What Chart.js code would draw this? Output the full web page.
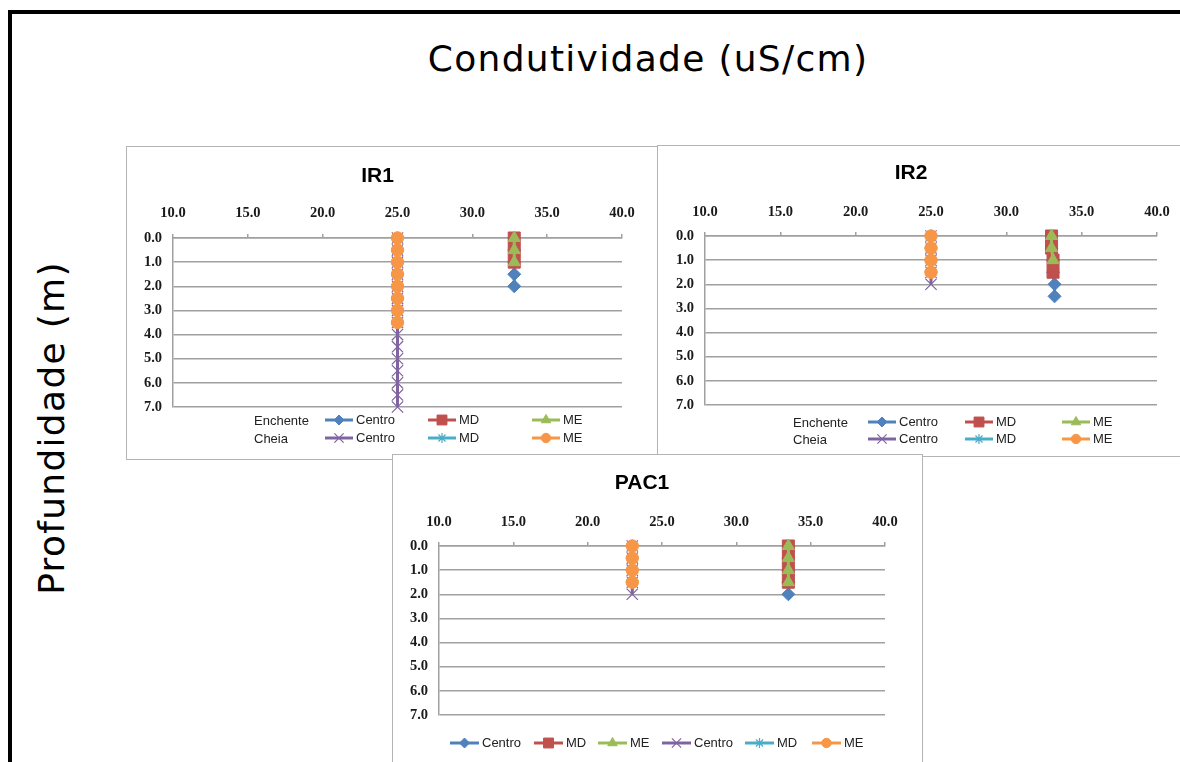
<!DOCTYPE html>
<html>
<head>
<meta charset="utf-8">
<script src="https://cdn.jsdelivr.net/npm/chart.js@4.4.1/dist/chart.umd.min.js"></script>
<style>
  html, body { margin: 0; padding: 0; background: #fff; }
  #stage { position: relative; width: 1180px; height: 762px; overflow: hidden; background: #fff; }
  #frame { position: absolute; left: 8px; top: 10px; width: 1300px; height: 900px; border: 4px solid #000; box-sizing: border-box; }
  .big { position: absolute; font-family: "DejaVu Sans", sans-serif; font-size: 36px; letter-spacing: 1.3px; color: #000; white-space: nowrap; line-height: 42px; }
  #title { left: 648px; top: 38px; transform: translateX(-50%); }
  #ylab { left: 52px; top: 428px; transform: translate(-50%, -50%) rotate(-90deg); }
  .box { position: absolute; background: #fff; border: 1px solid #b4b4b4; }
  .box canvas { position: absolute; left: 0; top: 0; }
</style>
</head>
<body>
<div id="stage">
  <div id="frame"></div>
  <div id="title" class="big">Condutividade (uS/cm)</div>
  <div id="ylab" class="big">Profundidade (m)</div>
  <div class="box" style="left:126px;top:146px;width:530px;height:312px"><canvas id="ir1" width="530" height="312"></canvas></div>
  <div class="box" style="left:657px;top:145px;width:530px;height:310px"><canvas id="ir2" width="530" height="310"></canvas></div>
  <div class="box" style="left:392px;top:454px;width:529px;height:320px"><canvas id="pac1" width="529" height="320"></canvas></div>
</div>
<script>
// legend text, campaign order: Enchente (first 3), Cheia (last 3)
const SERIES_LABELS = ['Centro', 'MD', 'ME', 'Centro', 'MD', 'ME'];
const CAMPAIGNS = ['Enchente', 'Cheia'];

// IR1 - profundidade (m) / condutividade (uS/cm)
const IR1_PROF_ENCH_CENTRO = [0.0, 0.5, 1.0, 1.5, 2.0];
const IR1_COND_ENCH_CENTRO = [32.8, 32.8, 32.8, 32.8, 32.8];
const IR1_PROF_ENCH_MD = [0.0, 0.5, 1.0];
const IR1_COND_ENCH_MD = [32.8, 32.8, 32.8];
const IR1_PROF_ENCH_ME = [0.0, 0.5, 1.0];
const IR1_COND_ENCH_ME = [32.8, 32.8, 32.8];
const IR1_PROF_CHEIA_CENTRO = [0.0, 0.5, 1.0, 1.5, 2.0, 2.5, 3.0, 3.5, 4.0, 4.5, 5.0, 5.5, 6.0, 6.5, 7.0];
const IR1_COND_CHEIA_CENTRO = [25.0, 25.0, 25.0, 25.0, 25.0, 25.0, 25.0, 25.0, 25.0, 25.0, 25.0, 25.0, 25.0, 25.0, 25.0];
const IR1_PROF_CHEIA_MD = [0.0, 0.5, 1.0, 1.5, 2.0, 2.5, 3.0, 3.5];
const IR1_COND_CHEIA_MD = [25.0, 25.0, 25.0, 25.0, 25.0, 25.0, 25.0, 25.0];
const IR1_PROF_CHEIA_ME = [0.0, 0.5, 1.0, 1.5, 2.0, 2.5, 3.0, 3.5];
const IR1_COND_CHEIA_ME = [25.0, 25.0, 25.0, 25.0, 25.0, 25.0, 25.0, 25.0];

// IR2
const IR2_PROF_ENCH_CENTRO = [0.0, 0.5, 1.0, 1.5, 2.0, 2.5];
const IR2_COND_ENCH_CENTRO = [33.0, 33.0, 33.1, 33.1, 33.2, 33.2];
const IR2_PROF_ENCH_MD = [0.0, 0.5, 1.0, 1.5];
const IR2_COND_ENCH_MD = [33.0, 33.0, 33.1, 33.1];
const IR2_PROF_ENCH_ME = [0.0, 0.5, 1.0];
const IR2_COND_ENCH_ME = [33.0, 33.0, 33.1];
const IR2_PROF_CHEIA_CENTRO = [0.0, 0.5, 1.0, 1.5, 2.0];
const IR2_COND_CHEIA_CENTRO = [25.0, 25.0, 25.0, 25.0, 25.0];
const IR2_PROF_CHEIA_MD = [0.0, 0.5, 1.0, 1.5];
const IR2_COND_CHEIA_MD = [25.0, 25.0, 25.0, 25.0];
const IR2_PROF_CHEIA_ME = [0.0, 0.5, 1.0, 1.5];
const IR2_COND_CHEIA_ME = [25.0, 25.0, 25.0, 25.0];

// PAC1
const PAC1_PROF_ENCH_CENTRO = [0.0, 0.5, 1.0, 1.5, 2.0];
const PAC1_COND_ENCH_CENTRO = [33.5, 33.5, 33.5, 33.5, 33.5];
const PAC1_PROF_ENCH_MD = [0.0, 0.5, 1.0, 1.5];
const PAC1_COND_ENCH_MD = [33.5, 33.5, 33.5, 33.5];
const PAC1_PROF_ENCH_ME = [0.0, 0.5, 1.0, 1.5];
const PAC1_COND_ENCH_ME = [33.5, 33.5, 33.5, 33.5];
const PAC1_PROF_CHEIA_CENTRO = [0.0, 0.5, 1.0, 1.5, 2.0];
const PAC1_COND_CHEIA_CENTRO = [23.0, 23.0, 23.0, 23.0, 23.0];
const PAC1_PROF_CHEIA_MD = [0.0, 0.5, 1.0, 1.5];
const PAC1_COND_CHEIA_MD = [23.0, 23.0, 23.0, 23.0];
const PAC1_PROF_CHEIA_ME = [0.0, 0.5, 1.0, 1.5];
const PAC1_COND_CHEIA_ME = [23.0, 23.0, 23.0, 23.0];

// axis ranges
const COND_MIN = 10, COND_MAX = 40, COND_STEP = 5;
const PROF_MIN = 0, PROF_MAX = 7, PROF_STEP = 1;

const STYLES = [
  { color: '#4F81BD', point: 'rectRot', r: 6.5, bw: 1 },
  { color: '#C0504D', point: 'rect', r: 8.5, bw: 1 },
  { color: '#9BBB59', point: 'triangle', r: 7, bw: 1 },
  { color: '#8064A2', point: 'crossRot', r: 8, bw: 1.2 },
  { color: '#4BACC6', point: 'star', r: 6.5, bw: 1.2 },
  { color: '#F79646', point: 'circle', r: 6.2, bw: 1 },
];
const GRID = '#a0a0a0';

function series(conds, profs) {
  return conds.map((c, i) => {
    const s = STYLES[i];
    return {
      label: SERIES_LABELS[i],
      data: c.map((x, j) => ({ x, y: profs[i][j] })),
      showLine: true,
      clip: false,
      borderColor: s.color,
      backgroundColor: s.color,
      borderWidth: 3,
      pointStyle: s.point,
      pointRadius: s.r,
      pointBackgroundColor: s.color,
      pointBorderColor: s.color,
      pointBorderWidth: s.bw,
      order: 5 - i,  // last series on top, like the spreadsheet
    };
  });
}

// legend in rows, with optional row labels (Enchente / Cheia)
const rowLegend = {
  id: 'rowLegend',
  afterDraw(chart, args, opts) {
    const ctx = chart.ctx;
    const ds = chart.data.datasets;
    ctx.save();
    ctx.font = opts.font;
    ctx.textBaseline = 'middle';
    opts.rows.forEach(row => {
      if (row.label) {
        ctx.fillStyle = opts.color;
        ctx.fillText(row.label, opts.labelX, row.y + 1);
      }
      row.items.forEach((idx, c) => {
        const d = ds[idx];
        const x0 = opts.cols[c];
        const y = row.y;
        ctx.strokeStyle = d.borderColor;
        ctx.lineWidth = d.borderWidth;
        ctx.beginPath();
        ctx.moveTo(x0, y);
        ctx.lineTo(x0 + opts.lineLen, y);
        ctx.stroke();
        ctx.fillStyle = d.pointBackgroundColor;
        ctx.strokeStyle = d.pointBorderColor;
        ctx.lineWidth = d.pointBorderWidth;
        Chart.helpers.drawPoint(ctx, {
          pointStyle: d.pointStyle, radius: d.pointRadius - 1.5,
          borderWidth: d.pointBorderWidth, rotation: 0
        }, x0 + opts.lineLen / 2, y);
        ctx.fillStyle = opts.color;
        ctx.fillText(d.label, x0 + opts.lineLen + 3, y);
      });
    });
    ctx.restore();
  }
};

function makeChart(id, title, datasets, g, legend) {
  new Chart(document.getElementById(id), {
    type: 'scatter',
    data: { datasets },
    plugins: [rowLegend],
    options: {
      responsive: false,
      animation: false,
      devicePixelRatio: 1,
      layout: { padding: { left: g.padL, right: g.padR, top: 0, bottom: g.padB } },
      scales: {
        x: {
          type: 'linear', position: 'top', min: COND_MIN, max: COND_MAX,
          afterFit: s => { s.height = 32; },
          ticks: {
            stepSize: COND_STEP, padding: g.tickPad, color: '#1a1a1a',
            font: { family: '"Liberation Serif", serif', size: 14.5, weight: 'bold' },
            callback: v => v.toFixed(1),
          },
          grid: { drawOnChartArea: false, drawTicks: true, tickLength: 4, color: GRID, lineWidth: 1.5 },
          border: { display: true, color: GRID, width: 1.5 },
        },
        y: {
          type: 'linear', reverse: true, min: PROF_MIN, max: PROF_MAX,
          afterFit: s => { s.width = 40; },
          ticks: {
            stepSize: PROF_STEP, padding: 11, color: '#1a1a1a',
            font: { family: '"Liberation Serif", serif', size: 14.5, weight: 'bold' },
            callback: v => v.toFixed(1),
          },
          grid: { drawTicks: false, color: GRID, lineWidth: 1.5 },
          border: { display: true, color: GRID, width: 1.5 },
        },
      },
      plugins: {
        legend: { display: false },
        tooltip: { enabled: false },
        title: {
          display: true, text: title, color: '#000',
          font: { family: '"Liberation Sans", sans-serif', size: 21, weight: 'bold', lineHeight: 1.2 },
          padding: { top: g.tPadTop, bottom: g.tPadBot },
        },
        rowLegend: legend,
      },
    },
  });
}

const LEG_FONT = '13px "Liberation Sans", sans-serif';

makeChart('ir1', 'IR1', series(
  [IR1_COND_ENCH_CENTRO, IR1_COND_ENCH_MD, IR1_COND_ENCH_ME, IR1_COND_CHEIA_CENTRO, IR1_COND_CHEIA_MD, IR1_COND_CHEIA_ME],
  [IR1_PROF_ENCH_CENTRO, IR1_PROF_ENCH_MD, IR1_PROF_ENCH_ME, IR1_PROF_CHEIA_CENTRO, IR1_PROF_CHEIA_MD, IR1_PROF_CHEIA_ME]),
  { padL: 6, padR: 35, padB: 52, tPadTop: 16.4, tPadBot: 17.4, tickPad: 11.6 },
  { font: LEG_FONT, color: '#222', labelX: 127, lineLen: 28, cols: [198, 301, 405],
    rows: [{ label: CAMPAIGNS[0], y: 273, items: [0, 1, 2] }, { label: CAMPAIGNS[1], y: 291, items: [3, 4, 5] }] });

makeChart('ir2', 'IR2', series(
  [IR2_COND_ENCH_CENTRO, IR2_COND_ENCH_MD, IR2_COND_ENCH_ME, IR2_COND_CHEIA_CENTRO, IR2_COND_CHEIA_MD, IR2_COND_CHEIA_ME],
  [IR2_PROF_ENCH_CENTRO, IR2_PROF_ENCH_MD, IR2_PROF_ENCH_ME, IR2_PROF_CHEIA_CENTRO, IR2_PROF_CHEIA_MD, IR2_PROF_CHEIA_ME]),
  { padL: 7, padR: 31, padB: 51, tPadTop: 14.4, tPadBot: 18.4, tickPad: 10.9 },
  { font: LEG_FONT, color: '#222', labelX: 135, lineLen: 28, cols: [210, 307, 404],
    rows: [{ label: CAMPAIGNS[0], y: 276, items: [0, 1, 2] }, { label: CAMPAIGNS[1], y: 293, items: [3, 4, 5] }] });

makeChart('pac1', 'PAC1', series(
  [PAC1_COND_ENCH_CENTRO, PAC1_COND_ENCH_MD, PAC1_COND_ENCH_ME, PAC1_COND_CHEIA_CENTRO, PAC1_COND_CHEIA_MD, PAC1_COND_CHEIA_ME],
  [PAC1_PROF_ENCH_CENTRO, PAC1_PROF_ENCH_MD, PAC1_PROF_ENCH_ME, PAC1_PROF_CHEIA_CENTRO, PAC1_PROF_CHEIA_MD, PAC1_PROF_CHEIA_ME]),
  { padL: 6, padR: 37, padB: 60, tPadTop: 15.4, tPadBot: 18.4, tickPad: 10.6 },
  { font: LEG_FONT, color: '#222', lineLen: 29, cols: [57, 141, 205, 269, 352, 419],
    rows: [{ y: 288, items: [0, 1, 2, 3, 4, 5] }] });
</script>
</body>
</html>
